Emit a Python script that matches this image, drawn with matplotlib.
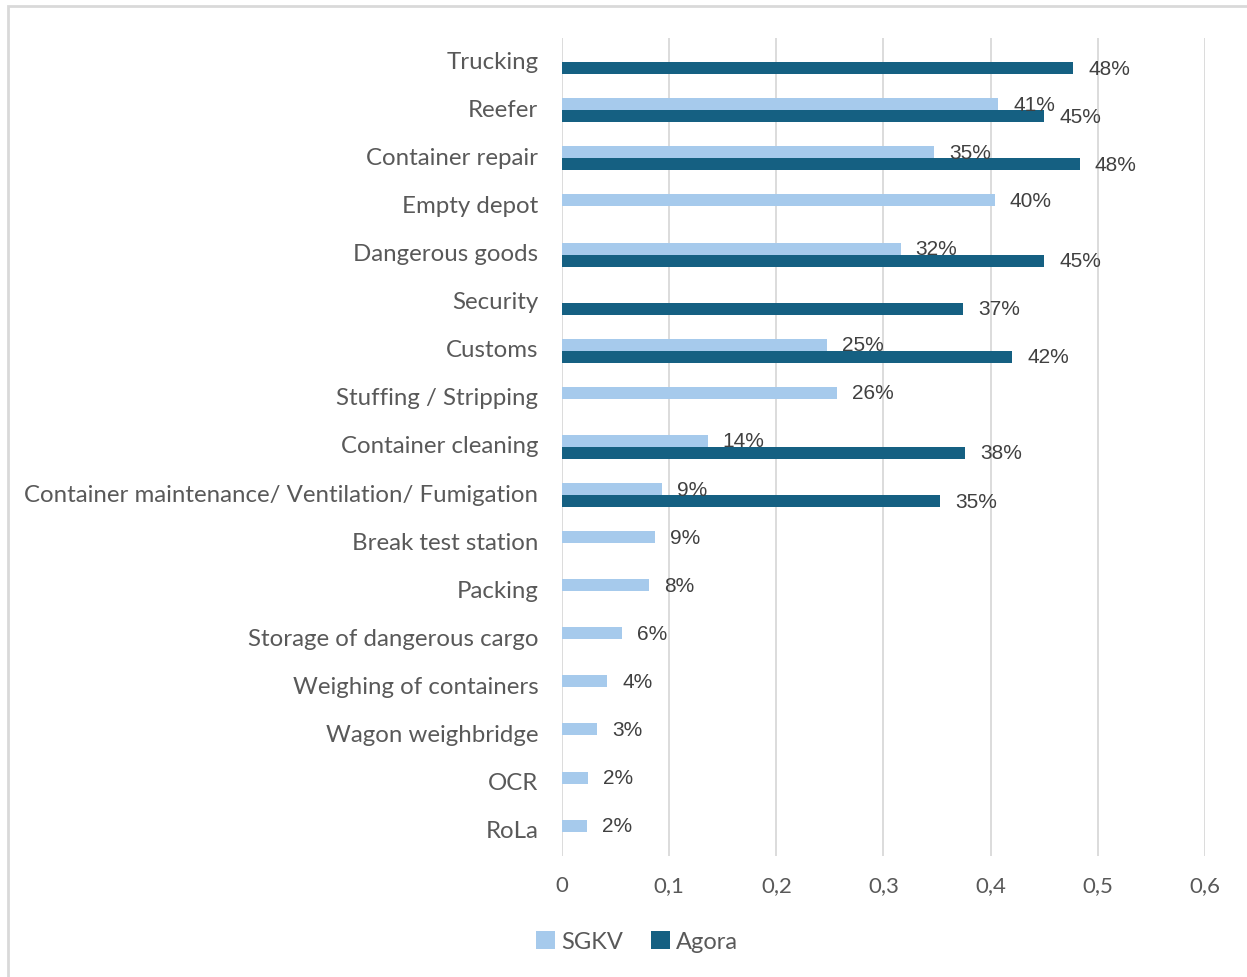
import matplotlib.pyplot as plt
import matplotlib.transforms as mtransforms
import numpy as np
from matplotlib.patches import Rectangle

categories = ["Trucking", "Reefer", "Container repair", "Empty depot",
              "Dangerous goods", "Security", "Customs", "Stuffing / Stripping",
              "Container cleaning",
              "Container maintenance/ Ventilation/ Fumigation",
              "Break test station", "Packing", "Storage of dangerous cargo",
              "Weighing of containers", "Wagon weighbridge", "OCR", "RoLa"]
# None = service not covered by that survey
sgkv = [None, 0.407, 0.347, 0.404, 0.316, None, 0.247, 0.257, 0.136, 0.093,
        0.087, 0.081, 0.056, 0.042, 0.033, 0.024, 0.023]
agora = [0.477, 0.45, 0.483, None, 0.45, 0.374, 0.42, None, 0.376, 0.353,
         None, None, None, None, None, None, None]
x_ticks = [0, 0.1, 0.2, 0.3, 0.4, 0.5, 0.6]
x_tick_labels = ["0", "0,1", "0,2", "0,3", "0,4", "0,5", "0,6"]

LIGHT = "#a6caec"
DARK = "#156082"
TEXT = "#595959"
LABEL = "#404040"

fig = plt.figure(figsize=(12.47, 9.78), dpi=100)
ax = fig.add_axes([0.4507, 0.124, 0.5156, 0.836])

ys = np.arange(len(categories))
h = 0.25


def draw_series(values, offset, color, name):
    idx = [i for i, v in enumerate(values) if v is not None]
    vals = [values[i] for i in idx]
    pos = ys[idx] + offset
    ax.barh(pos, vals, height=h, color=color, label=name, zorder=3)
    for p, v in zip(pos, vals):
        ax.text(v + 0.014, p, "{:.0%}".format(v), va="center", ha="left",
                fontsize=15, color=LABEL, family="Liberation Sans", zorder=4)


draw_series(sgkv, -h / 2, LIGHT, "SGKV")
draw_series(agora, h / 2, DARK, "Agora")

ax.set_ylim(len(categories) - 0.5, -0.5)
ax.set_xlim(0, 0.6)
ax.set_yticks(ys)
ax.set_yticklabels(categories, fontsize=17.3, color=TEXT, family="Lato")
ax.set_xticks(x_ticks)
ax.set_xticklabels(x_tick_labels, fontsize=16, color=TEXT, family="Lato")
ax.tick_params(axis="both", length=0)
ax.tick_params(axis="y", pad=17)
ax.tick_params(axis="x", pad=14)
ax.grid(axis="x", color="#d9d9d9", linewidth=1.3, zorder=0)
for s in ax.spines.values():
    s.set_visible(False)

# nudge category labels up a little
shift = mtransforms.ScaledTranslation(0, 3 / 100, fig.dpi_scale_trans)
for lbl in ax.get_yticklabels():
    lbl.set_transform(lbl.get_transform() + shift)

leg = fig.legend(loc="center", bbox_to_anchor=(0.511, 0.036), ncol=2,
                 frameon=False, handlelength=0.8, handleheight=0.8,
                 handletextpad=0.25, columnspacing=1.2,
                 prop={"family": "Lato", "size": 17})
for t in leg.get_texts():
    t.set_color(TEXT)

# light frame around the chart area
fig.patches.append(Rectangle((8 / 1247, -0.1), 1.2, (971 / 978) + 0.1,
                             transform=fig.transFigure, fill=False,
                             edgecolor="#d9d9d9", linewidth=2))

fig.savefig("out.png", dpi=100)
